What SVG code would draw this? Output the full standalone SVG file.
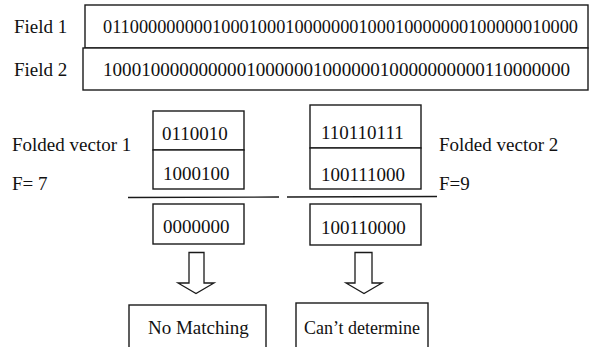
<svg xmlns="http://www.w3.org/2000/svg" width="595" height="347" viewBox="0 0 595 347">
  <style>
    .box { fill: #fff; stroke: #1a1a1a; stroke-width: 1.4; }
    .rule { stroke: #1a1a1a; stroke-width: 1.4; fill: none; }
    .arrow { fill: #fff; stroke: #1a1a1a; stroke-width: 1.3; stroke-linejoin: miter; }
    .t { font-family: 'Liberation Serif', 'DejaVu Serif', 'Times New Roman', serif; font-size: 19px; fill: #111; }
  </style>
  <rect width="595" height="347" fill="#fff"/>

  <!-- bit fields -->
  <g id="field1">
    <text class="t" x="14" y="33">Field 1</text>
    <rect class="box" x="85" y="5" width="503" height="43"/>
    <text class="t" x="103" y="33" textLength="475" lengthAdjust="spacingAndGlyphs">0110000000001000100010000000100010000000100000010000</text>
  </g>
  <g id="field2">
    <text class="t" x="14" y="76">Field 2</text>
    <rect class="box" x="83" y="48" width="505" height="42"/>
    <text class="t" x="103" y="76" textLength="467" lengthAdjust="spacingAndGlyphs">1000100000000001000000100000010000000000110000000</text>
  </g>

  <!-- folded vector 1 -->
  <g id="folded1">
    <text class="t" x="12" y="151">Folded vector 1</text>
    <text class="t" x="12" y="190">F= 7</text>
    <rect class="box" x="153" y="111" width="91" height="39"/>
    <rect class="box" x="153" y="150" width="91" height="39"/>
    <text class="t" x="162" y="140">0110010</text>
    <text class="t" x="163" y="180">1000100</text>
  </g>
  <g id="result1">
    <rect class="box" x="153" y="204" width="91" height="40"/>
    <text class="t" x="163" y="233">0000000</text>
  </g>

  <!-- folded vector 2 -->
  <g id="folded2">
    <text class="t" x="439" y="151">Folded vector 2</text>
    <text class="t" x="439" y="190">F=9</text>
    <rect class="box" x="310" y="105" width="111" height="43"/>
    <rect class="box" x="310" y="148" width="111" height="41"/>
    <text class="t" x="321" y="139">110110111</text>
    <text class="t" x="321" y="181">100111000</text>
  </g>
  <g id="result2">
    <rect class="box" x="310" y="204" width="111" height="41"/>
    <text class="t" x="321" y="234">100110000</text>
  </g>

  <!-- outcomes -->
  <g id="outcome1">
    <rect class="box" x="129" y="305" width="137" height="50"/>
    <text class="t" x="148" y="334">No Matching</text>
  </g>
  <g id="outcome2">
    <rect class="box" x="296" y="303" width="132" height="52"/>
    <text class="t" x="304" y="334" textLength="116" lengthAdjust="spacingAndGlyphs">Can’t determine</text>
  </g>

  <!-- connectors: AND rules and hollow arrows -->
  <g id="connectors">
    <line class="rule" x1="128" y1="197.5" x2="279" y2="197"/>
    <line class="rule" x1="287" y1="197" x2="437" y2="196.5"/>
    <path class="arrow" d="M189 252.5 H204 V283 H214 L196 293.5 L178 283 H189 Z"/>
    <path class="arrow" d="M355 252.5 H372 V283 H382 L364 293.5 L346 283 H355 Z"/>
  </g>
</svg>
